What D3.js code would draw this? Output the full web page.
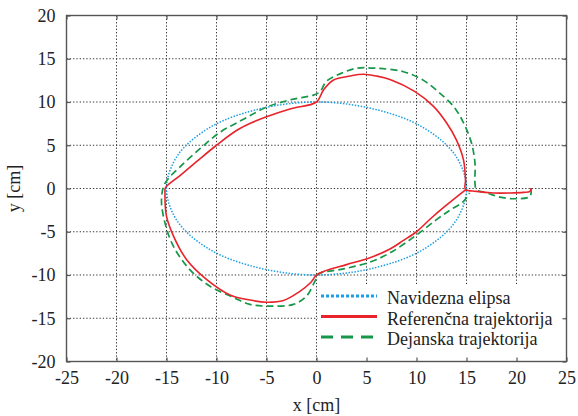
<!DOCTYPE html>
<html>
<head>
<meta charset="utf-8">
<script src="https://cdn.jsdelivr.net/npm/d3@7"></script>
<style>
  body { margin: 0; background: #fff; }
  text { font-family: "Liberation Serif", "Times New Roman", serif; fill: #222; }
</style>
</head>
<body>
<div class="content"></div>
<script>
const xTicks = [-25, -20, -15, -10, -5, 0, 5, 10, 15, 20, 25];
const yTicks = [-20, -15, -10, -5, 0, 5, 10, 15, 20];

// Navidezna elipsa
const ellipse = [
  [15, 0], [13.9, 3.8], [10.6, 7.1], [5.7, 9.2], [0, 10], [-5.7, 9.2], [-10.6, 7.1], [-13.9, 3.8],
  [-15, 0], [-13.9, -3.8], [-10.6, -7.1], [-5.7, -9.2], [0, -10], [5.7, -9.2], [10.6, -7.1], [13.9, -3.8]
];

// Referencna trajektorija
const reference = [
  [21.45, 0.05], [21.35, -0.33], [20.7, -0.45], [19.35, -0.52], [17.7, -0.52], [16, -0.33], [14.9, -0.1],
  [14.9, 1.0], [14.7, 3.3], [14, 5.6], [13, 7.6], [11.7, 9.5], [9.85, 11.2], [7.35, 12.6], [6, 13.0],
  [4.7, 13.2], [3.35, 13.0], [1.7, 12.55], [0.7, 11.4], [0, 10],
  [-2.65, 9.2], [-5, 8.3], [-6.5, 7.6], [-8, 6.7], [-10, 5.0], [-12, 3.1], [-13.65, 1.5],
  [-15.1, 0.1],
  [-15.15, -0.5], [-15, -3.2], [-14.3, -5.5], [-13, -8.2], [-11, -10.5], [-8.65, -12.3], [-6.65, -12.9],
  [-5, -13.15], [-3.3, -12.95], [-1.8, -12.0], [-0.6, -10.9], [0, -10],
  [0.7, -9.6], [3, -8.8], [5.35, -8.0], [7.35, -7.0], [8.7, -6.0], [10, -5], [11.4, -3.5], [12.8, -2.1],
  [14.9, -0.15]
];

// Dejanska trajektorija
const actual = [
  [21.45, 0.05], [21.35, -0.9], [20, -1.18], [18.35, -1.0], [17, -0.5], [16, -0.15], [15.85, 0.6],
  [15.85, 2.9], [15.5, 5.25], [14.7, 7.6], [13.7, 9.5], [12.35, 11], [10.7, 12.5], [8.7, 13.5], [6, 13.9],
  [4, 13.9], [2.35, 13.25], [1, 12.4], [0.35, 11.2], [-0.3, 10.8],
  [-2.65, 10.25], [-5, 9.4], [-7.3, 8.0], [-9.65, 6.5], [-11.65, 4.6], [-13.65, 2.5], [-15.15, 0.6],
  [-15.5, -1.3], [-15.15, -4.0], [-14.3, -6.7], [-12.65, -9.4], [-10.65, -11.3], [-8.3, -12.6], [-6.65, -13.4],
  [-4.65, -13.6], [-2.3, -13.4], [-1, -12.45], [-0.15, -10.7], [0.2, -9.9],
  [2.7, -9.3], [5.35, -8.5], [7.35, -7.45], [9.85, -5.5], [12, -3.6], [13.35, -2.5],
  [14.7, -1.5], [15.3, -0.5]
];

const legendItems = [
  { label: "Navidezna elipsa", color: "#1e9fe3", dash: "3,2" },
  { label: "Referenčna trajektorija", color: "#e8232a", dash: null },
  { label: "Dejanska trajektorija", color: "#16974a", dash: "12,8" }
];

const W = 578, H = 416;
const margin = { top: 15.5, right: 11.5, bottom: 54.5, left: 66.5 };

const svg = d3.select('.content')
  .append('svg')
  .attr('width', W)
  .attr('height', H);

const x = d3.scaleLinear().domain([-25, 25]).range([margin.left, W - margin.right]);
const y = d3.scaleLinear().domain([-20, 20]).range([H - margin.bottom, margin.top]);

// grid
const grid = svg.append("g")
  .attr("stroke", "#333")
  .attr("stroke-width", 1)
  .attr("stroke-dasharray", "1.3,2");
grid.selectAll(".gx")
  .data(xTicks.slice(1, -1))
  .enter().append("line")
  .attr("x1", d => x(d)).attr("x2", d => x(d))
  .attr("y1", y(20)).attr("y2", y(-20));
grid.selectAll(".gy")
  .data(yTicks.slice(1, -1))
  .enter().append("line")
  .attr("y1", d => y(d)).attr("y2", d => y(d))
  .attr("x1", x(-25)).attr("x2", x(25));

// curves
const line = d3.line().x(d => x(d[0])).y(d => y(d[1]));

svg.append("path")
  .datum(ellipse)
  .attr("d", line.curve(d3.curveCatmullRomClosed.alpha(0.5)))
  .attr("fill", "none")
  .attr("stroke", legendItems[0].color)
  .attr("stroke-width", 1.5)
  .attr("stroke-dasharray", "1.5,1.5");

svg.append("path")
  .datum(actual)
  .attr("d", line.curve(d3.curveCatmullRom.alpha(0.5)))
  .attr("fill", "none")
  .attr("stroke", legendItems[2].color)
  .attr("stroke-width", 1.7)
  .attr("stroke-dasharray", "7,4");

svg.append("path")
  .datum(reference)
  .attr("d", line.curve(d3.curveCatmullRom.alpha(0.5)))
  .attr("fill", "none")
  .attr("stroke", legendItems[1].color)
  .attr("stroke-width", 1.6);

// legend
const lg = svg.append("g");
lg.append("rect")
  .attr("x", 317.5).attr("y", 284)
  .attr("width", x(25) - 317.5 - 1).attr("height", y(-20) - 284 - 1)
  .attr("fill", "#fff");
legendItems.forEach((d, i) => {
  const by = 304 + i * 20.5;
  lg.append("line")
    .attr("x1", 321).attr("x2", 377)
    .attr("y1", by - 8).attr("y2", by - 8)
    .attr("stroke", d.color)
    .attr("stroke-width", 3)
    .attr("stroke-dasharray", d.dash);
  lg.append("text")
    .attr("x", 387).attr("y", by)
    .attr("font-size", 18)
    .text(d.label);
});

// frame and axes
const axisColor = "#555";
svg.append("rect")
  .attr("x", x(-25)).attr("y", y(20))
  .attr("width", x(25) - x(-25)).attr("height", y(-20) - y(20))
  .attr("fill", "none")
  .attr("stroke", axisColor)
  .attr("stroke-width", 1.4);

function styleAxis(g, labels) {
  g.select(".domain").remove();
  g.selectAll(".tick line").attr("stroke", axisColor).attr("stroke-width", 1.2);
  if (labels) {
    g.selectAll(".tick text")
      .attr("font-family", "Liberation Serif")
      .attr("font-size", 18)
      .attr("fill", "#222");
  } else {
    g.selectAll(".tick text").remove();
  }
}

const fmt = d => String(d);

svg.append("g")
  .attr("transform", `translate(0, ${y(-20)})`)
  .call(d3.axisBottom(x).tickValues(xTicks).tickSizeInner(-4).tickSizeOuter(0).tickPadding(10).tickFormat(fmt))
  .call(g => styleAxis(g, true));

svg.append("g")
  .attr("transform", `translate(0, ${y(20)})`)
  .call(d3.axisTop(x).tickValues(xTicks).tickSizeInner(-4).tickSizeOuter(0))
  .call(g => styleAxis(g, false));

svg.append("g")
  .attr("transform", `translate(${x(-25)}, 0)`)
  .call(d3.axisLeft(y).tickValues(yTicks).tickSizeInner(-4).tickSizeOuter(0).tickPadding(11).tickFormat(fmt))
  .call(g => styleAxis(g, true));

svg.append("g")
  .attr("transform", `translate(${x(25)}, 0)`)
  .call(d3.axisRight(y).tickValues(yTicks).tickSizeInner(-4).tickSizeOuter(0))
  .call(g => styleAxis(g, false));

// axis titles
svg.append("text")
  .attr("x", x(0)).attr("y", 411)
  .attr("text-anchor", "middle")
  .attr("font-size", 18)
  .text("x [cm]");

svg.append("text")
  .attr("transform", `translate(20, ${y(0)}) rotate(-90)`)
  .attr("text-anchor", "middle")
  .attr("font-size", 18)
  .text("y [cm]");
</script>
</body>
</html>
